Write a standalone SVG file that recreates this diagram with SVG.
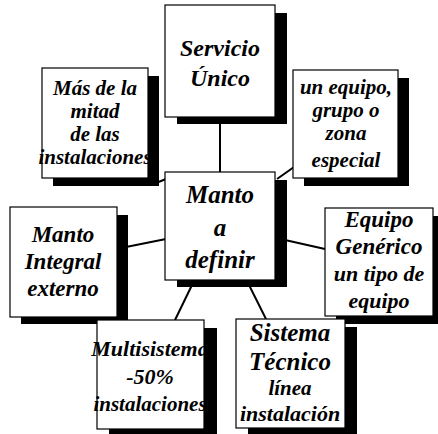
<svg xmlns="http://www.w3.org/2000/svg" width="438" height="434" viewBox="0 0 438 434">
<style>
.bg{fill:#fff}
.sh{fill:#000}
.bx{fill:#fff;stroke:#000;stroke-width:1.2}
.t{font-family:'Liberation Serif','DejaVu Serif',serif;font-weight:700;font-style:italic;fill:#000;text-anchor:middle}
.c{stroke:#000;stroke-width:2;fill:none}
</style>
<rect class="bg" x="0" y="0" width="438" height="434"/>
<g id="connectors">
<line class="c" x1="220" y1="120" x2="220" y2="172"/>
<line class="c" x1="156" y1="183" x2="166" y2="179"/>
<line class="c" x1="294" y1="167" x2="277" y2="179"/>
<line class="c" x1="126" y1="247" x2="166" y2="239"/>
<line class="c" x1="285" y1="240" x2="325" y2="249"/>
<line class="c" x1="192" y1="285" x2="175" y2="320"/>
<line class="c" x1="249" y1="285" x2="266" y2="319"/>
</g>
<g font-family="Liberation Serif, DejaVu Serif, serif" font-weight="bold" font-style="italic">
<g id="servicio">
<rect class="sh" x="177" y="13" width="110" height="111"/>
<rect class="bx" x="165" y="5" width="110" height="112"/>
<text class="t" x="220" y="56" font-size="24">Servicio</text>
<text class="t" x="220" y="86" font-size="24">Único</text>
</g>
<g id="mas">
<rect class="sh" x="53" y="76" width="106" height="110"/>
<rect class="bx" x="42" y="68" width="106" height="110"/>
<text class="t" x="95" y="95" font-size="21">Más de la</text>
<text class="t" x="95" y="118" font-size="21">mitad</text>
<text class="t" x="95" y="141" font-size="21">de las</text>
<text class="t" x="95" y="164" font-size="21">instalaciones</text>
</g>
<g id="unequipo">
<rect class="sh" x="304" y="78" width="105" height="108"/>
<rect class="bx" x="293" y="70" width="105" height="108"/>
<text class="t" x="346" y="94" font-size="21">un equipo,</text>
<text class="t" x="346" y="117" font-size="21">grupo o</text>
<text class="t" x="346" y="140" font-size="21">zona</text>
<text class="t" x="346" y="167" font-size="21">especial</text>
</g>
<g id="manto">
<rect class="sh" x="177" y="180" width="110" height="107"/>
<rect class="bx" x="165" y="172" width="110" height="108"/>
<text class="t" x="220" y="203" font-size="25">Manto</text>
<text class="t" x="220" y="236" font-size="25">a</text>
<text class="t" x="220" y="268" font-size="25">definir</text>
</g>
<g id="integral">
<rect class="sh" x="21" y="215" width="107" height="109"/>
<rect class="bx" x="10" y="207" width="107" height="110"/>
<text class="t" x="63" y="242" font-size="23">Manto</text>
<text class="t" x="63" y="269" font-size="23">Integral</text>
<text class="t" x="63" y="296" font-size="23">externo</text>
</g>
<g id="generico">
<rect class="sh" x="336" y="216" width="108" height="108"/>
<rect class="bx" x="325" y="208" width="108" height="108"/>
<text class="t" x="379" y="227" font-size="23">Equipo</text>
<text class="t" x="379" y="254" font-size="23">Genérico</text>
<text class="t" x="379" y="281" font-size="22">un tipo de</text>
<text class="t" x="379" y="308" font-size="22">equipo</text>
</g>
<g id="multisistema">
<rect class="sh" x="109" y="328" width="108" height="110"/>
<rect class="bx" x="97" y="320" width="107" height="109"/>
<text class="t" x="150" y="356" font-size="22">Multisistema</text>
<text class="t" x="150" y="384" font-size="22">-50%</text>
<text class="t" x="150" y="411" font-size="21">instalaciones</text>
</g>
<g id="sistema">
<rect class="sh" x="248" y="327" width="109" height="109"/>
<rect class="bx" x="236" y="319" width="109" height="109"/>
<text class="t" x="290" y="341" font-size="25">Sistema</text>
<text class="t" x="290" y="370" font-size="25">Técnico</text>
<text class="t" x="290" y="395" font-size="21">línea</text>
<text class="t" x="290" y="421" font-size="22">instalación</text>
</g>
</g>
</svg>
